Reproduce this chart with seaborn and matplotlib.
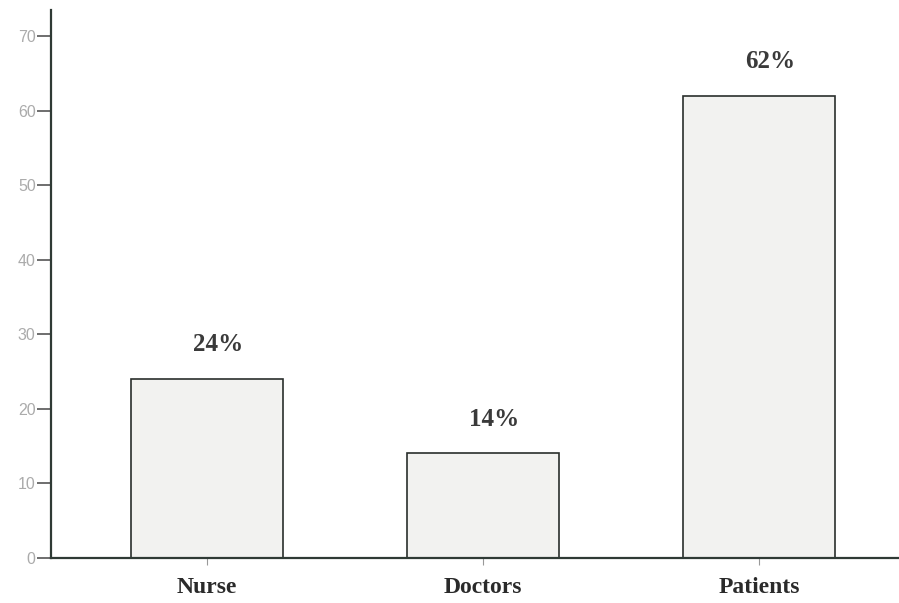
import matplotlib
matplotlib.use("Agg")
import matplotlib.pyplot as plt
import seaborn as sns
import pandas as pd

# Share of respondents by group
groups = ["Nurse", "Doctors", "Patients"]
percent = [24, 14, 62]
value_labels = ["24%", "14%", "62%"]
y_ticks = [0, 10, 20, 30, 40, 50, 60, 70]

df = pd.DataFrame({"group": groups, "percent": percent})

sns.set_theme(style="white")
fig = plt.figure(figsize=(8.99, 6.03), dpi=100)
ax = fig.add_axes([0.0567, 0.075, 0.9433, 0.908])

sns.barplot(data=df, x="group", y="percent", order=groups, ax=ax,
            color="#f2f2f0", edgecolor="#2a2f2c", linewidth=1.2,
            width=0.55, saturation=1)

for i, (v, lab) in enumerate(zip(percent, value_labels)):
    ax.text(i + 0.04, v + 3.7, lab, ha="center", va="baseline",
            fontsize=18, fontweight="bold", family="Liberation Serif",
            color="#3a3a3a")

ax.set_ylim(0, 73.5)
ax.set_xlim(-0.565, 2.507)
ax.set_yticks(y_ticks)
ax.set_yticklabels([str(t) for t in y_ticks], fontsize=11.5,
                   color="#ababab", family="Liberation Sans")
ax.set_xticks(range(len(groups)))
ax.set_xticklabels(groups, fontsize=17, fontweight="bold",
                   family="Liberation Serif", color="#2a2a2a")
ax.set_xlabel("")
ax.set_ylabel("")

for side in ["top", "right"]:
    ax.spines[side].set_visible(False)
for side in ["left", "bottom"]:
    ax.spines[side].set_color("#2f3a35")
    ax.spines[side].set_linewidth(1.6)

ax.tick_params(axis="y", direction="out", length=10, width=1.2,
               color="#555555", pad=1, left=True)
ax.tick_params(axis="x", direction="out", length=5, width=0.8,
               color="#999999", pad=9, bottom=True)

fig.savefig("out.png", dpi=100, facecolor="white")
